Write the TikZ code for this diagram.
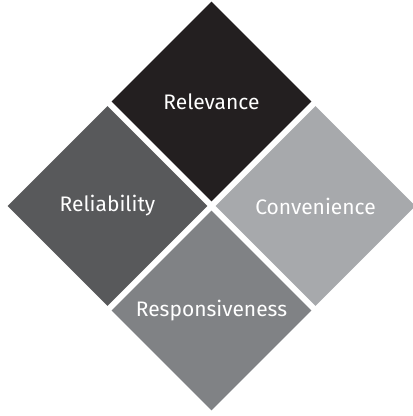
\documentclass[tikz,border=0pt]{standalone}
\usepackage{fontspec}
\setsansfont{Fira Sans}
\usepackage{tikz}
\usetikzlibrary{shapes.geometric}
\definecolor{TileBlack}{HTML}{231F20}
\definecolor{TileDark}{HTML}{58595B}
\definecolor{TileMid}{HTML}{808285}
\definecolor{TileLight}{HTML}{A7A9AC}
\tikzset{
  tile/.style={diamond,aspect=1,minimum width=200pt,minimum height=200pt,inner sep=0pt,text=white,font=\sffamily\fontsize{21}{24}\selectfont}
}

\begin{document}
\begin{tikzpicture}[x=1pt,y=1pt]
\useasboundingbox (0,0) rectangle (413,416);
\node[tile,fill=TileBlack] (relevance) at (211.5,314.5) {Relevance};
\node[tile,fill=TileDark] (reliability) at (107.5,210) {Reliability};
\node[tile,fill=TileLight] (convenience) at (315.5,210) {Convenience};
\node[tile,fill=TileMid] (responsiveness) at (211.5,105.5) {Responsiveness};
\end{tikzpicture}
\end{document}
